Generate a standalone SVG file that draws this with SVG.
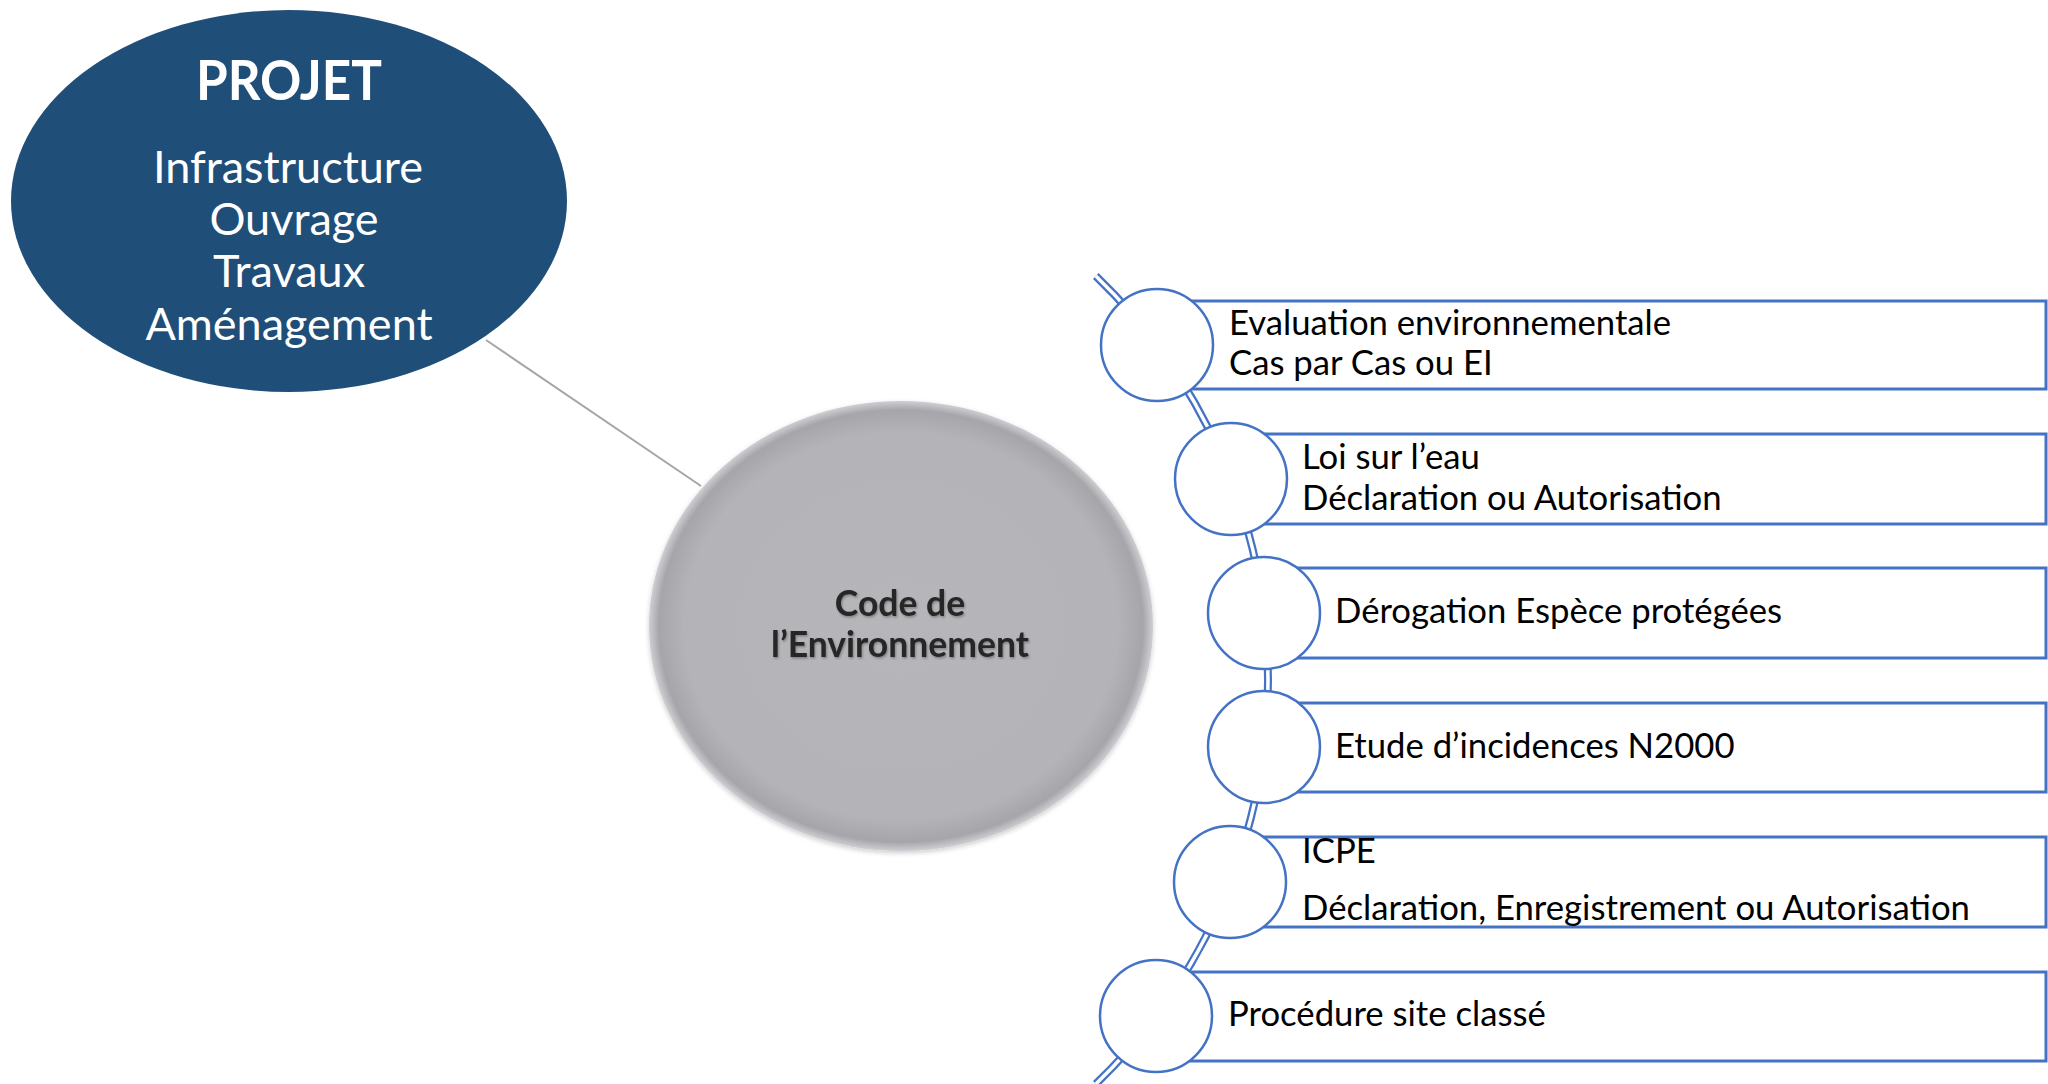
<svg xmlns="http://www.w3.org/2000/svg" width="2048" height="1084" viewBox="0 0 2048 1084">
  <defs>
    <radialGradient id="grayFill" cx="50%" cy="50%" r="50%">
      <stop offset="0" stop-color="#b6b6ba"/>
      <stop offset="0.86" stop-color="#b4b4b8"/>
      <stop offset="0.96" stop-color="#a6a6aa"/>
      <stop offset="1" stop-color="#cfcfd3"/>
    </radialGradient>
    <filter id="txtShadow" x="-10%" y="-30%" width="120%" height="160%">
      <feDropShadow dx="1" dy="1.5" stdDeviation="1" flood-color="#000" flood-opacity="0.3"/>
    </filter>
    <filter id="circShadow" x="-10%" y="-10%" width="120%" height="120%">
      <feDropShadow dx="0" dy="2" stdDeviation="2.5" flood-color="#000" flood-opacity="0.2"/>
    </filter>
  </defs>
  <style>
    .item-rect { fill: #ffffff; stroke: #4472c4; stroke-width: 3; }
    .item-circ { fill: #ffffff; stroke: #4472c4; stroke-width: 2.5; }
    .item-txt { font-family: Lato, "Liberation Sans", sans-serif; font-size: 34.7px; fill: #000000; }
    .proj-txt { font-family: Lato, "Liberation Sans", sans-serif; fill: #ffffff; text-anchor: middle; }
    .code-txt { font-family: Lato, "Liberation Sans", sans-serif; font-size: 35.5px; font-weight: bold; fill: #262626; text-anchor: middle; }
  </style>
  <rect width="2048" height="1084" fill="#ffffff"/>

  <g id="connectors">
    <line x1="486" y1="340" x2="701" y2="486" stroke="#a6a6a6" stroke-width="2"/>
    <path d="M1095.8,276 A560,560 0 0 1 1095.8,1084" fill="none" stroke="#4472c4" stroke-width="8"/>
    <path d="M1095.8,276 A560,560 0 0 1 1095.8,1084" fill="none" stroke="#ffffff" stroke-width="3.5"/>
  </g>

  <g id="projet">
    <ellipse cx="289" cy="201" rx="278" ry="191" fill="#1f4e79"/>
    <text class="proj-txt" x="289" y="100" font-size="55" font-weight="bold" textLength="186" lengthAdjust="spacingAndGlyphs">PROJET</text>
    <text class="proj-txt" x="288" y="183" font-size="45">Infrastructure</text>
    <text class="proj-txt" x="294" y="235" font-size="45">Ouvrage</text>
    <text class="proj-txt" x="289" y="287" font-size="45">Travaux</text>
    <text class="proj-txt" x="289" y="340" font-size="45">Aménagement</text>
  </g>

  <g id="code-environnement">
    <ellipse cx="901" cy="626" rx="252" ry="225" fill="url(#grayFill)" filter="url(#circShadow)"/>
    <g filter="url(#txtShadow)">
      <text class="code-txt" x="900" y="616">Code de</text>
      <text class="code-txt" x="900" y="657">l’Environnement</text>
    </g>
  </g>

  <g id="item-1">
    <rect class="item-rect" x="1157" y="301" width="889" height="88"/>
    <circle class="item-circ" cx="1157" cy="345" r="56"/>
    <text class="item-txt" x="1229" y="335">Evaluation environnementale</text>
    <text class="item-txt" x="1229" y="375">Cas par Cas ou EI</text>
  </g>

  <g id="item-2">
    <rect class="item-rect" x="1231" y="434" width="815" height="90"/>
    <circle class="item-circ" cx="1231" cy="479" r="56"/>
    <text class="item-txt" x="1302" y="469">Loi sur l’eau</text>
    <text class="item-txt" x="1302" y="510">Déclaration ou Autorisation</text>
  </g>

  <g id="item-3">
    <rect class="item-rect" x="1264" y="568" width="782" height="90"/>
    <circle class="item-circ" cx="1264" cy="613" r="56"/>
    <text class="item-txt" x="1335" y="623">Dérogation Espèce protégées</text>
  </g>

  <g id="item-4">
    <rect class="item-rect" x="1264" y="703" width="782" height="89"/>
    <circle class="item-circ" cx="1264" cy="747" r="56"/>
    <text class="item-txt" x="1335" y="758">Etude d’incidences N2000</text>
  </g>

  <g id="item-5">
    <rect class="item-rect" x="1230" y="837" width="816" height="90"/>
    <circle class="item-circ" cx="1230" cy="882" r="56"/>
    <text class="item-txt" x="1302" y="863">ICPE</text>
    <text class="item-txt" x="1302" y="920">Déclaration, Enregistrement ou Autorisation</text>
  </g>

  <g id="item-6">
    <rect class="item-rect" x="1156" y="972" width="890" height="89"/>
    <circle class="item-circ" cx="1156" cy="1016" r="56"/>
    <text class="item-txt" x="1228" y="1026">Procédure site classé</text>
  </g>
</svg>
